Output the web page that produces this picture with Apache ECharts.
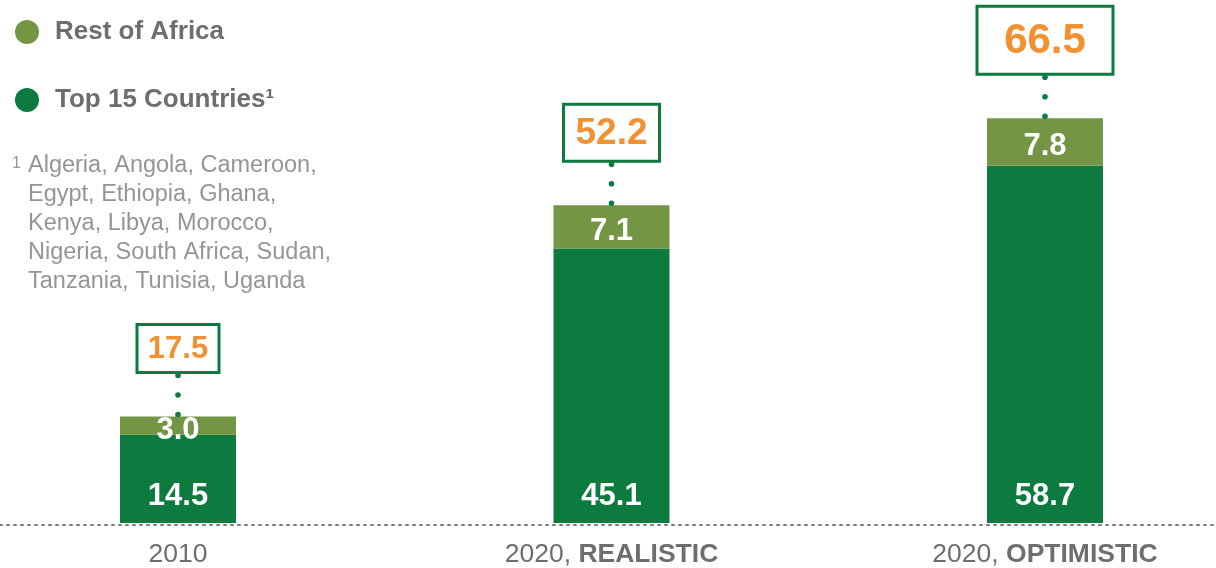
<!DOCTYPE html>
<html>
<head>
<meta charset="utf-8">
<script src="https://cdn.jsdelivr.net/npm/echarts@6/dist/echarts.min.js"></script>
<style>html,body{margin:0;padding:0;background:#fff;}#c{width:1216px;height:568px;}</style>
</head>
<body>
<div id="c"></div>
<script>
// ---- data ----
const categories = ['2010', '2020, REALISTIC', '2020, OPTIMISTIC'];
const top15 = [14.5, 45.1, 58.7];
const restOfAfrica = [3.0, 7.1, 7.8];
const totals = [17.5, 52.2, 66.5];
const footnoteLines = [
  'Algeria, Angola, Cameroon,',
  'Egypt, Ethiopia, Ghana,',
  'Kenya, Libya, Morocco,',
  'Nigeria, South Africa, Sudan,',
  'Tanzania, Tunisia, Uganda'
];

// ---- styles ----
const FONT = '"Liberation Sans", Arial, sans-serif';
const DARK = '#0d7a3f';
const LIGHT = '#739544';
const ORANGE = '#f29131';
const GRAY = '#6d6e71';
const LIGHTGRAY = '#939598';
const totalFont = [31, 37, 42];
const boxW = [82, 96, 136];
const boxH = [48, 57, 68];

const chart = echarts.init(document.getElementById('c'), null, {renderer: 'canvas'});

function catLabel(v) {
  const parts = v.split(', ');
  if (parts.length === 1) return '{n|' + v + '}';
  return '{n|' + parts[0] + ', }{b|' + parts[1] + '}';
}

const option = {
  animation: false,
  backgroundColor: '#fff',
  textStyle: {fontFamily: FONT},
  legend: {
    data: ['Rest of Africa', 'Top 15 Countries'],
    orient: 'vertical',
    left: 10,
    top: 14,
    itemWidth: 24,
    itemHeight: 24,
    itemGap: 42,
    icon: 'circle',
    selectedMode: false,
    formatter: function (n) { return n === 'Top 15 Countries' ? n + '¹' : n; },
    textStyle: {
      color: GRAY, fontSize: 26, fontWeight: 'bold', fontFamily: FONT,
      lineHeight: 26, padding: [0, 0, 0, 11]
    }
  },
  grid: [
    {left: 178, right: 171, top: 36, bottom: 42, containLabel: false},
    {left: 0, right: 0, top: 36, bottom: 43, containLabel: false}
  ],
  xAxis: [
    {
      type: 'category',
      gridIndex: 0,
      data: categories,
      boundaryGap: false,
      axisTick: {show: false},
      axisLine: {show: false},
      axisLabel: {
        margin: 18,
        formatter: catLabel,
        rich: {
          n: {fontSize: 26.5, color: GRAY, fontFamily: FONT},
          b: {fontSize: 26.5, color: GRAY, fontWeight: 'bold', fontFamily: FONT}
        }
      }
    },
    {
      type: 'value',
      gridIndex: 1,
      min: 0, max: 1,
      axisTick: {show: false},
      axisLabel: {show: false},
      splitLine: {show: false},
      z: 5,
      axisLine: {show: true, lineStyle: {color: '#7a7a7a', width: 2, type: [2, 5]}}
    }
  ],
  yAxis: [
    {type: 'value', gridIndex: 0, min: 0, max: 80, show: false, splitLine: {show: false}},
    {type: 'value', gridIndex: 1, min: 0, max: 80, show: false, splitLine: {show: false}}
  ],
  series: [
    {
      name: 'Top 15 Countries',
      type: 'bar',
      stack: 'total',
      barWidth: 116,
      clip: false,
      data: top15,
      itemStyle: {color: DARK},
      label: {
        show: true, position: 'insideBottom', distance: 11,
        color: '#fff', fontSize: 31, fontWeight: 'bold', fontFamily: FONT,
        formatter: function (p) { return p.value.toFixed(1); }
      }
    },
    {
      name: 'Rest of Africa',
      type: 'bar',
      stack: 'total',
      barWidth: 116,
      clip: false,
      data: restOfAfrica,
      itemStyle: {color: LIGHT},
      label: {
        show: true, position: 'inside', offset: [0, 5],
        color: '#fff', fontSize: 31, fontWeight: 'bold', fontFamily: FONT,
        formatter: function (p) { return p.value.toFixed(1); }
      }
    },
    {
      name: 'Total',
      type: 'custom',
      clip: false,
      data: totals.map(function (v, i) { return [i, v]; }),
      encode: {x: 0, y: 1},
      z: 10,
      renderItem: function (params, api) {
        const i = api.value(0);
        const v = api.value(1);
        const p = api.coord([i, v]);
        const bw = boxW[i], bh = boxH[i];
        const bottom = p[1] - 44;
        const children = [];
        [2, 21.5, 41].forEach(function (d) {
          children.push({type: 'circle', shape: {cx: p[0], cy: p[1] - d, r: 2.8}, style: {fill: DARK}});
        });
        children.push({
          type: 'rect',
          shape: {x: p[0] - bw / 2, y: bottom - bh, width: bw, height: bh},
          style: {fill: '#fff', stroke: DARK, lineWidth: 3}
        });
        children.push({
          type: 'text',
          x: p[0], y: bottom - bh / 2 + 1,
          style: {
            text: v.toFixed(1), fill: ORANGE,
            font: 'bold ' + totalFont[i] + 'px ' + FONT,
            align: 'center', verticalAlign: 'middle'
          }
        });
        return {type: 'group', children: children};
      }
    }
  ],
  graphic: [
    {
      type: 'text', left: 12, top: 156,
      style: {text: '1', fill: LIGHTGRAY, font: '16px ' + FONT}
    },
    {
      type: 'text', left: 28, top: 151,
      style: {
        text: footnoteLines.join('\n'), fill: LIGHTGRAY,
        font: '23.5px ' + FONT, lineHeight: 29
      }
    }
  ]
};
chart.setOption(option);
</script>
</body>
</html>
